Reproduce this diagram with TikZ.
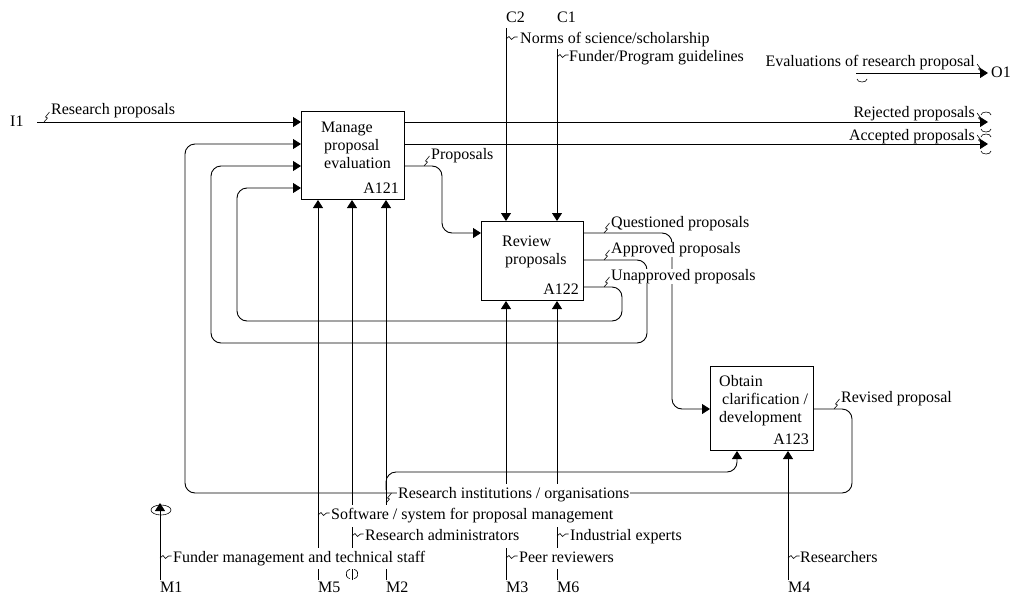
\documentclass[tikz,border=0pt]{standalone}
\usepackage{fontspec}
\setmainfont{Liberation Serif}
\usetikzlibrary{arrows.meta}
\newcommand\sqU[2]{\draw[sq] (#1,#2) -- ++(3.5,-4) -- ++(-2,-1) -- ++(4,-5);}
\newcommand\sqR[2]{\draw[sq] (#1,#2) -- ++(3,-2.5) -- ++(2.5,3) -- ++(3,-2.5) -- ++(3,0);}
\newcommand\sqD[2]{\draw[sq] (#1,#2) -- ++(3,4) -- ++(-1.5,1) -- ++(4.5,4);}
\begin{document}
\begin{tikzpicture}[x=1pt,y=-1pt,
  font=\fontsize{16}{18}\selectfont,
  box/.style={draw, line width=1pt, inner sep=0pt, anchor=north west},
  ln/.style={line width=0.9pt},
  arr/.style={line width=0.9pt, -{Triangle[length=8pt,width=10pt]}},
  rc/.style={rounded corners=10pt},
  sq/.style={line width=0.6pt},
  tx/.style={anchor=base west, inner sep=0pt},
  txe/.style={anchor=base east, inner sep=0pt},
  lab/.style={fill=white, anchor=base west, inner xsep=1pt, inner ysep=0.5pt, text height=11pt, text depth=3.5pt},
  labe/.style={lab, anchor=base east},
  mlab/.style={lab, inner ysep=3.5pt}]
\useasboundingbox (0,0) rectangle (1011,597);

% boxes
\node[box, minimum width=103, minimum height=88] (A121) at (301,111) {};
\node[box, minimum width=102, minimum height=79] (A122) at (481,221) {};
\node[box, minimum width=103, minimum height=84] (A123) at (710,366) {};

% boundary points
\coordinate (I1p) at (37,122);
\coordinate (Rej) at (988,122);
\coordinate (Acc) at (988,144);
\coordinate (O1s) at (856,73);
\coordinate (O1p) at (988,73);
\coordinate (C2p) at (506,28);
\coordinate (C1p) at (557,49);
\coordinate (M1p) at (160,580);
\coordinate (M1t) at (160,503);
\coordinate (M5p) at (318,580);
\coordinate (MRp) at (352,580);
\coordinate (M2p) at (386,580);
\coordinate (M2b) at (386,490);
\coordinate (M2c) at (737,472);
\coordinate (M3p) at (506,580);
\coordinate (M6p) at (557,580);
\coordinate (M4p) at (788,580);

% inputs / outputs
\draw[arr] (I1p) -- (I1p -| A121.west);
\draw[arr] (A121.east |- Rej) -- (Rej);
\draw[arr] (A121.east |- Acc) -- (Acc);
\draw[arr] (O1s) -- (O1p);
\draw[arr, rc] (A121.east |- 0,166) -- (442,166) -- (442,233) -- (A122.west |- 0,233);
% controls
\draw[arr] (C2p) -- (C2p |- A122.north);
\draw[arr] (C1p) -- (C1p |- A122.north);
% review outputs
\draw[arr, rc] (A122.east |- 0,233) -- (672,233) -- (672,409) -- (A123.west |- 0,409);
\draw[arr, rc] (A122.east |- 0,260) -- (647,260) -- (647,343) -- (211,343) -- (211,166) -- (A121.west |- 0,166);
\draw[arr, rc] (A122.east |- 0,287) -- (622,287) -- (622,321) -- (237,321) -- (237,188) -- (A121.west |- 0,188);
\draw[arr, rc] (A123.east |- 0,409) -- (852,409) -- (852,493) -- (185,493) -- (185,144) -- (A121.west |- 0,144);
% mechanisms
\draw[arr] (M1p) -- (M1t);
\draw[arr] (M5p) -- (M5p |- A121.south);
\draw[arr] (MRp) -- (MRp |- A121.south);
\draw[arr] (M2p) -- (M2p |- A121.south);
\draw[arr, rc] (M2b) -- (M2b |- M2c) -- (M2c) -- (M2c |- A123.south);
\draw[arr] (M3p) -- (M3p |- A122.south);
\draw[arr] (M6p) -- (M6p |- A122.south);
\draw[arr] (M4p) -- (M4p |- A123.south);

% labels
\node[lab] (lRP) at (50,114) {Research proposals};
\node[lab] (lPr) at (430,159) {Proposals};
\node[lab] (lNo) at (519,43) {Norms of science/scholarship};
\node[lab] (lFP) at (568,61) {Funder/Program guidelines};
\node[labe] (lEv) at (976,66) {Evaluations of research proposal};
\node[labe] (lRe) at (976,117) {Rejected proposals};
\node[labe] (lAc) at (976,140) {Accepted proposals};
\node[lab] (lQu) at (610,227) {Questioned proposals};
\node[lab] (lAp) at (610,253) {Approved proposals};
\node[lab] (lUn) at (610,280) {Unapproved proposals};
\node[lab] (lRv) at (840,402) {Revised proposal};
\node[mlab] (lRI) at (397,498) {Research institutions / organisations};
\node[mlab] (lSw) at (330,519.6) {Software / system for proposal management};
\node[mlab] (lRA) at (364,540.5) {Research administrators};
\node[mlab] (lIE) at (569,540.5) {Industrial experts};
\node[mlab] (lFM) at (172,562) {Funder management and technical staff};
\node[mlab] (lPR) at (518,562) {Peer reviewers};
\node[mlab] (lRs) at (799,562) {Researchers};

% squiggles
\sqU{44}{122}
\sqU{424}{166}
\sqU{604}{233}
\sqU{604}{260}
\sqU{604}{287}
\sqU{834}{409}
\sqU{386}{503}
\sqR{506}{39}
\sqR{557}{57}
\sqR{318}{515}
\sqR{352}{536}
\sqR{557}{536}
\sqR{160}{558}
\sqR{506}{558}
\sqR{788}{558}
\sqD{977}{64}
\sqD{977}{113}
\sqD{977}{135}

% tunnel marks
\draw[sq] (867,79) arc[start angle=0,end angle=180,x radius=5,y radius=3];
\draw[sq] (981,115) arc[start angle=180,end angle=360,x radius=5,y radius=3];
\draw[sq] (991,129) arc[start angle=0,end angle=180,x radius=5,y radius=3];
\draw[sq] (981,137) arc[start angle=180,end angle=360,x radius=5,y radius=3];
\draw[sq] (991,151) arc[start angle=0,end angle=180,x radius=5,y radius=3];
\draw[sq] (161,510) ellipse[x radius=10,y radius=5];
\draw[sq] (352,574) ++(110:6 and 5) arc[start angle=110,end angle=250,x radius=6,y radius=5];
\draw[sq] (352,574) ++(-70:6 and 5) arc[start angle=-70,end angle=70,x radius=6,y radius=5];

% ICOM codes
\node[tx] (cI1) at (10,126) {I1};
\node[tx] (cO1) at (991,77) {O1};
\node[tx] (cC2) at (506,23) {C2};
\node[tx] (cC1) at (557,23) {C1};
\node[tx] (cM1) at (160,592) {M1};
\node[tx] (cM5) at (318,592) {M5};
\node[tx] (cM2) at (386,592) {M2};
\node[tx] (cM3) at (506,592) {M3};
\node[tx] (cM6) at (557,592) {M6};
\node[tx] (cM4) at (788,592) {M4};

% box texts
\node[tx] (t1a) at (321,132) {Manage};
\node[tx] (t1b) at (324,150) {proposal};
\node[tx] (t1c) at (324,168) {evaluation};
\node[txe] (n121) at (399,193) {A121};
\node[tx] (t2a) at (502,246) {Review};
\node[tx] (t2b) at (505,264) {proposals};
\node[txe] (n122) at (579,294) {A122};
\node[tx] (t3a) at (719,386) {Obtain};
\node[tx] (t3b) at (722,404) {clarification /};
\node[tx] (t3c) at (719,422) {development};
\node[txe] (n123) at (809,444) {A123};
\end{tikzpicture}
\end{document}
